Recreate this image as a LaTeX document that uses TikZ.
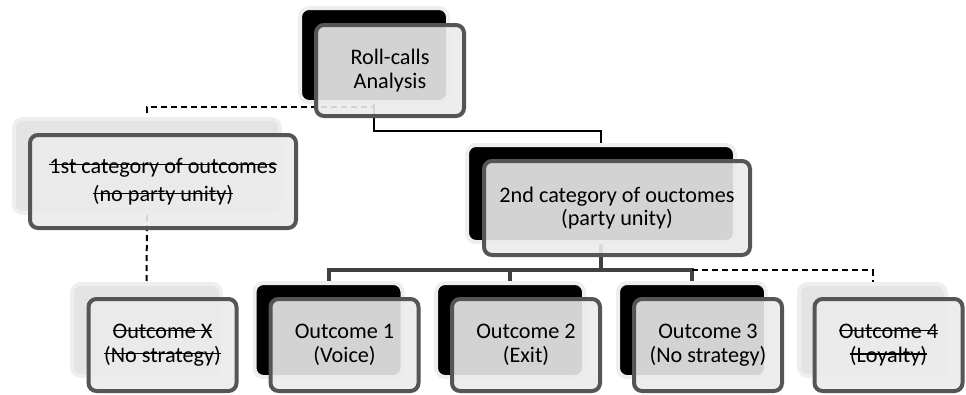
\documentclass[tikz,border=0pt]{standalone}
\usepackage{fontspec}
\setmainfont{Carlito}
\usetikzlibrary{positioning}
\usetikzlibrary{backgrounds}

\definecolor{cardline}{HTML}{555555}
\definecolor{cardfill}{HTML}{EBEBEB}
\definecolor{ringgray}{HTML}{EEEEEE}
\definecolor{lightback}{HTML}{E4E4E4}
\definecolor{treegray}{HTML}{404040}

\newsavebox{\strikebox}
\newcommand{\struck}[1]{\sbox{\strikebox}{#1}\rlap{\rule[.72ex]{\wd\strikebox}{1.3pt}}\usebox{\strikebox}}

\tikzset{
backdark/.style={draw=ringgray, line width=4pt, fill=black, rounded corners=9pt,
  minimum width=148pt, minimum height=94pt, inner sep=0pt},
backlight/.style={backdark, fill=lightback},
card/.style={draw=cardline, line width=4pt, fill=cardfill, fill opacity=0.9, text opacity=1,
  rounded corners=8pt, minimum width=148pt, minimum height=92pt, inner sep=0pt,
  align=center, font=\fontsize{22.2}{23.5}\selectfont},
link/.style={line width=2pt},
dlink/.style={line width=2pt, dash pattern=on 6pt off 4pt},
branch/.style={line width=4pt, draw=treegray}
}

\begin{document}
\begin{tikzpicture}[x=1pt,y=-1pt]
\useasboundingbox (0,0) rectangle (966,394);

\node[backdark] (rollB) at (374,55) {};
\node[card, minimum height=91pt] (roll) at ([xshift=16pt,yshift=-15.5pt]rollB.center) {Roll-calls\\Analysis};

\node[backlight, minimum width=266pt] (cat1B) at (147,166) {};
\node[card, minimum width=266pt, minimum height=93pt] (cat1) at ([xshift=16pt,yshift=-15.5pt]cat1B.center)
  {\struck{1st category of outcomes}\\[5pt]\struck{(no party unity)}};

\node[backdark, minimum width=268pt, minimum height=97pt] (cat2B) at (601,193.5) {};
\node[card, minimum width=266pt, minimum height=94pt] (cat2) at ([xshift=16pt,yshift=-14.5pt]cat2B.center)
  {2nd category of ouctomes\\(party unity)};

\node[backlight, minimum width=149pt, minimum height=92pt] (oXB) at (146.5,330) {};
\node[backdark] (o1B) at (328.5,330) {};
\node[backdark] (o2B) at (510,330) {};
\node[backdark] (o3B) at (692,330) {};
\node[backlight, minimum width=147pt, minimum height=92pt] (o4B) at (872.5,330) {};

\node[card] (oX) at ([xshift=16pt,yshift=-15pt]oXB.center) {\struck{Outcome X}\\\struck{(No strategy)}};
\node[card] (o1) at ([xshift=16pt,yshift=-15pt]o1B.center) {Outcome 1\\(Voice)};
\node[card] (o2) at ([xshift=16pt,yshift=-15pt]o2B.center) {Outcome 2\\(Exit)};
\node[card] (o3) at ([xshift=16pt,yshift=-15pt]o3B.center) {Outcome 3\\(No strategy)};
\node[card] (o4) at ([xshift=16pt,yshift=-15pt]o4B.center) {\struck{Outcome 4}\\\struck{(Loyalty)}};

\begin{scope}[on background layer]
\draw[link] (rollB.south) -- ++(0,27) -| (cat2B.north);
\draw[dlink] (rollB.south) -- ++(0,3) -| (cat1B.north);
\draw[dlink] (cat1B.south) -- (oXB.north);
\draw[branch] (cat2B.south) -- ++(0,26) coordinate (hub);
\draw[branch] (o1B.north) |- (hub) -| (o3B.north);
\draw[branch] (hub -| o2B.north) -- (o2B.north);
\draw[dlink] (hub -| o3B.north) -| (o4B.north);
\end{scope}
\end{tikzpicture}
\end{document}
